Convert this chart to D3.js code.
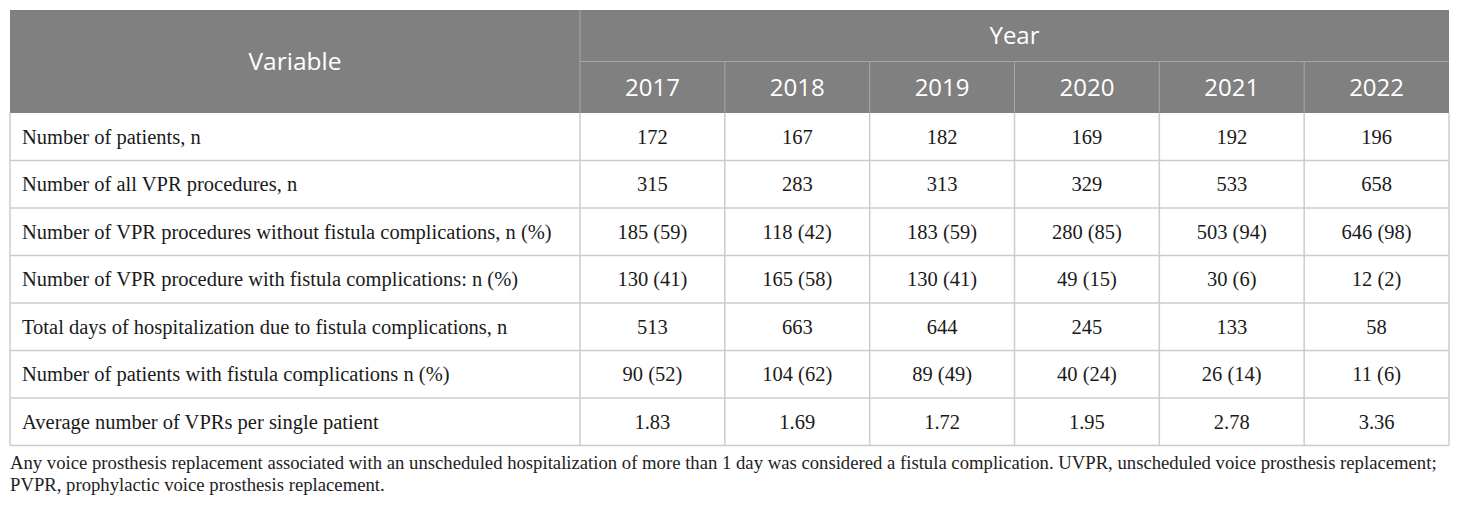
<!DOCTYPE html>
<html>
<head>
<meta charset="utf-8">
<script src="https://cdn.jsdelivr.net/npm/d3@7"></script>
<style>
  body { margin: 0; background: #fff; }
</style>
</head>
<body>
<div id="chart"></div>
<script>
// table data
var years = ["2017", "2018", "2019", "2020", "2021", "2022"];
var variables = [
  "Number of patients, n",
  "Number of all VPR procedures, n",
  "Number of VPR procedures without fistula complications, n (%)",
  "Number of VPR procedure with fistula complications: n (%)",
  "Total days of hospitalization due to fistula complications, n",
  "Number of patients with fistula complications n (%)",
  "Average number of VPRs per single patient"
];
var patients = ["172", "167", "182", "169", "192", "196"];
var allProcedures = ["315", "283", "313", "329", "533", "658"];
var withoutFistula = ["185 (59)", "118 (42)", "183 (59)", "280 (85)", "503 (94)", "646 (98)"];
var withFistula = ["130 (41)", "165 (58)", "130 (41)", "49 (15)", "30 (6)", "12 (2)"];
var hospitalDays = ["513", "663", "644", "245", "133", "58"];
var patientsFistula = ["90 (52)", "104 (62)", "89 (49)", "40 (24)", "26 (14)", "11 (6)"];
var avgPerPatient = ["1.83", "1.69", "1.72", "1.95", "2.78", "3.36"];
var rows = [patients, allProcedures, withoutFistula, withFistula, hospitalDays, patientsFistula, avgPerPatient];
var footnote = [
  "Any voice prosthesis replacement associated with an unscheduled hospitalization of more than 1 day was considered a fistula complication. UVPR, unscheduled voice prosthesis replacement;",
  "PVPR, prophylactic voice prosthesis replacement."
];

var width = 1460, height = 510;
var tblLeft = 10, tblRight = 1449, tblTop = 10;
var varColW = 570;
var headRowH = 51.5, rowH = 47.5;
var headFill = "#808080", lineColor = "#cccccc";
var sansFont = "'Open Sans', sans-serif", serifFont = "'Liberation Serif', 'Times New Roman', serif";

var svg = d3.select("#chart").append("svg")
  .attr("width", width)
  .attr("height", height);

var x = d3.scaleBand()
  .domain(years)
  .range([tblLeft + varColW, tblRight]);

var headBottom = tblTop + headRowH * 2;
var y = d3.scaleBand()
  .domain(d3.range(variables.length))
  .range([headBottom, headBottom + rowH * variables.length]);

// header background
svg.append("rect")
  .attr("x", tblLeft)
  .attr("y", tblTop)
  .attr("width", tblRight - tblLeft)
  .attr("height", headRowH * 2)
  .style("fill", headFill);

// header lines
svg.append("line")
  .attr("x1", tblLeft + varColW).attr("x2", tblRight)
  .attr("y1", tblTop + headRowH).attr("y2", tblTop + headRowH)
  .style("stroke", "#a6a6a6").style("stroke-width", 1);

svg.selectAll(".hsep")
  .data(years)
  .enter().append("line")
  .attr("x1", function(d) { return x(d); })
  .attr("x2", function(d) { return x(d); })
  .attr("y1", function(d, i) { return i === 0 ? tblTop : tblTop + headRowH; })
  .attr("y2", headBottom)
  .style("stroke", "#a6a6a6").style("stroke-width", 1);

svg.append("text")
  .attr("x", tblLeft + varColW / 2)
  .attr("y", tblTop + headRowH)
  .attr("dy", "0.36em")
  .style("font-family", sansFont)
  .style("font-size", "24.5px")
  .style("text-anchor", "middle")
  .style("fill", "white")
  .text("Variable");

svg.append("text")
  .attr("x", (tblLeft + varColW + tblRight) / 2)
  .attr("y", tblTop + headRowH / 2)
  .attr("dy", "0.36em")
  .style("font-family", sansFont)
  .style("font-size", "24px")
  .style("text-anchor", "middle")
  .style("fill", "white")
  .text("Year");

svg.selectAll(".year")
  .data(years)
  .enter().append("text")
  .attr("x", function(d) { return x(d) + x.bandwidth() / 2; })
  .attr("y", tblTop + headRowH * 1.5)
  .attr("dy", "0.36em")
  .style("font-family", sansFont)
  .style("font-size", "24px")
  .style("text-anchor", "middle")
  .style("fill", "white")
  .text(function(d) { return d; });

// body grid
var bodyBottom = y.range()[1];
svg.selectAll(".rowline")
  .data(d3.range(variables.length))
  .enter().append("line")
  .attr("x1", tblLeft).attr("x2", tblRight)
  .attr("y1", function(d) { return y(d) + rowH; })
  .attr("y2", function(d) { return y(d) + rowH; })
  .style("stroke", lineColor).style("stroke-width", 1.5);

svg.selectAll(".colline")
  .data([tblLeft, tblLeft + varColW].concat(years.slice(1).map(function(d) { return x(d); }), [tblRight]))
  .enter().append("line")
  .attr("x1", function(d) { return d; })
  .attr("x2", function(d) { return d; })
  .attr("y1", headBottom)
  .attr("y2", bodyBottom)
  .style("stroke", lineColor).style("stroke-width", 1.5);

// body text
svg.selectAll(".varname")
  .data(variables)
  .enter().append("text")
  .attr("x", tblLeft + 12)
  .attr("y", function(d, i) { return y(i) + rowH / 2; })
  .attr("dy", "0.34em")
  .style("font-family", serifFont)
  .style("font-size", "20.5px")
  .style("fill", "#1a1a1a")
  .text(function(d) { return d; });

rows.forEach(function(vals, i) {
  svg.selectAll(".cell" + i)
    .data(vals)
    .enter().append("text")
    .attr("x", function(d, j) { return x(years[j]) + x.bandwidth() / 2; })
    .attr("y", y(i) + rowH / 2)
    .attr("dy", "0.34em")
    .style("font-family", serifFont)
    .style("font-size", "20.5px")
    .style("text-anchor", "middle")
    .style("fill", "#1a1a1a")
    .text(function(d) { return d; });
});

// footnote
svg.selectAll(".foot")
  .data(footnote)
  .enter().append("text")
  .attr("x", tblLeft)
  .attr("y", function(d, i) { return bodyBottom + 23 + i * 22; })
  .style("font-family", serifFont)
  .style("font-size", "18.7px")
  .style("fill", "#222")
  .text(function(d) { return d; });
</script>
</body>
</html>
